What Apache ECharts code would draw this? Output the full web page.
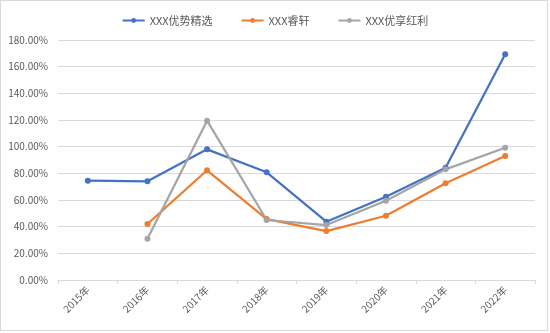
<!DOCTYPE html>
<html>
<head>
<meta charset="utf-8">
<script src="https://cdn.jsdelivr.net/npm/echarts@6/dist/echarts.min.js"></script>
<style>
  html, body { margin: 0; padding: 0; background: #fff; }
  #frame { position: absolute; left: 0; top: 0; width: 546px; height: 329px; border: 1px solid #d9d9d9; box-sizing: content-box; }
  #chart { width: 550px; height: 333px; position: absolute; left: 0; top: 0; }
</style>
</head>
<body>
<div id="frame"></div>
<div id="chart"></div>
<script>
// Years on the category axis
const years = ['2015年', '2016年', '2017年', '2018年', '2019年', '2020年', '2021年', '2022年'];
// Annual returns in percent
const youshiJingxuan = [74.5, 74, 98, 80.8, 43.7, 62.5, 84.2, 169.3];
const ruixuan = [null, 42, 82.3, 45.7, 36.7, 48.2, 72.5, 93];
const youxiangHongli = [null, 31, 119.5, 45, 41.2, 59.5, 83, 99.2];
const seriesNames = ['XXX优势精选', 'XXX睿轩', 'XXX优享红利'];
const colors = ['#4472C4', '#ED7D31', '#A5A5A5'];

const font = '"Microsoft YaHei", "Noto Sans CJK SC", sans-serif';

function lineSeries(name, data, color) {
  return {
    name: name,
    type: 'line',
    data: data,
    symbol: 'circle',
    symbolSize: 6,
    connectNulls: false,
    lineStyle: { width: 2.25, color: color },
    itemStyle: { color: color }
  };
}

const chart = echarts.init(document.getElementById('chart'));
chart.setOption({
  animation: false,
  textStyle: { fontFamily: font },
  color: colors,
  legend: {
    top: 10,
    left: 'center',
    itemWidth: 22,
    itemHeight: 6,
    itemGap: 28,
    textStyle: { color: '#595959', fontSize: 11, fontFamily: font },
    data: seriesNames
  },
  grid: { left: 58, right: 15, top: 40, bottom: 53 },
  xAxis: {
    type: 'category',
    data: years,
    boundaryGap: true,
    axisLine: { lineStyle: { color: '#d9d9d9' } },
    axisTick: { show: true, alignWithLabel: false, length: 4, lineStyle: { color: '#d9d9d9' } },
    axisLabel: { rotate: 45, color: '#595959', fontSize: 10, margin: 8, fontFamily: font }
  },
  yAxis: {
    type: 'value',
    min: 0,
    max: 180,
    interval: 20,
    axisLine: { show: false },
    axisTick: { show: false },
    splitLine: { lineStyle: { color: '#d9d9d9', width: 1 } },
    axisLabel: {
      color: '#595959',
      fontSize: 10,
      margin: 10,
      fontFamily: font,
      formatter: v => v.toFixed(2) + '%'
    }
  },
  series: [
    lineSeries(seriesNames[0], youshiJingxuan, colors[0]),
    lineSeries(seriesNames[1], ruixuan, colors[1]),
    lineSeries(seriesNames[2], youxiangHongli, colors[2])
  ]
});
</script>
</body>
</html>
